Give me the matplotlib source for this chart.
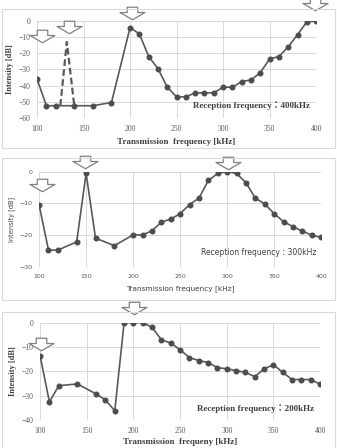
import matplotlib
matplotlib.use('Agg')
import matplotlib.pyplot as plt
from matplotlib.path import Path
from matplotlib.patches import Rectangle

# --- data ---
freq_400 = [100, 110, 120, 140, 160, 180, 200, 210, 220, 230, 240, 250, 260, 270, 280,
            290, 300, 310, 320, 330, 340, 350, 360, 370, 380, 390, 400]
db_400 = [-36, -52.5, -52.5, -52.5, -52.5, -50.5, -4, -8, -22, -29.5, -41, -47, -47, -44.5, -44.5,
          -44.5, -41, -41, -37.5, -36.5, -32, -23.5, -22, -16, -8.5, -0.5, 0]
dash_freq_400 = [125, 132, 140]
dash_db_400 = [-52.5, -13, -52.5]
arrows_400 = [(105, -9.5), (134, -3.5), (202, 4.7), (399, 10.5)]

freq_300 = [100, 110, 120, 140, 150, 160, 180, 200, 210, 220, 230, 240, 250, 260, 270, 280,
            290, 300, 310, 320, 330, 340, 350, 360, 370, 380, 390, 400]
db_300 = [-10.5, -24.8, -24.8, -22.2, -0.5, -21, -23.4, -20, -20, -18.7, -16, -15, -13.3, -10.4, -8.4, -2.8,
          -0.6, 0, -0.6, -3.5, -8.4, -10.2, -13.3, -15.8, -17.4, -18.8, -20.1, -20.8]
arrows_300 = [(103.5, -4.2), (149, 2.9), (301, 2.7)]

freq_200 = [100, 110, 120, 140, 160, 170, 180, 190, 200, 210, 220, 230, 240, 250, 260, 270, 280,
            290, 300, 310, 320, 330, 340, 350, 360, 370, 380, 390, 400]
db_200 = [-13.7, -32.6, -25.9, -25.2, -29.3, -31.8, -36.2, 0, 0, 0, -2, -7.1, -8.4, -11.2, -14.4, -15.6, -16.4,
          -18.5, -19, -19.7, -20.5, -22.2, -19, -17.3, -20.5, -23.4, -23.4, -23.4, -25.3]
arrows_200 = [(101, -8.8), (200.5, 6)]

# block arrow marker pointing down
ARROW = Path([(-0.42, 0.5), (0.42, 0.5), (0.42, 0.08), (1, 0.08), (0, -0.5), (-1, 0.08),
              (-0.42, 0.08), (-0.42, 0.5)],
             [Path.MOVETO] + [Path.LINETO] * 6 + [Path.CLOSEPOLY])

GRAY = '#595959'


def pannello(fig, rect, x, y, ylim, yticks, frecuenza, arrows, serif, xlabel, text_pos, frame,
             tickpad, labelpad):
    fig.patches.append(Rectangle((frame[0], frame[1]), frame[2], frame[3], transform=fig.transFigure,
                                 fill=False, edgecolor='#d9d9d9', linewidth=0.8))
    ax = fig.add_axes(rect)
    if serif:
        family, weight = 'Liberation Serif', 'bold'
        tick_fs, lab_fs, txt_fs = 5.5, 6.5, 6.5
    else:
        family, weight = 'DejaVu Sans', 'normal'
        tick_fs, lab_fs, txt_fs = 4.5, 5.3, 5.5

    ax.plot(x, y, color=GRAY, linewidth=1.2, marker='o', markersize=3.3,
            markerfacecolor='#4d4d4d', markeredgecolor='#4d4d4d', zorder=3)
    for ax_x, ax_y in arrows:
        ax.plot([ax_x], [ax_y], marker=ARROW, markersize=18, markerfacecolor='white',
                markeredgecolor='#808080', markeredgewidth=0.9, clip_on=False, zorder=5, linestyle='none')

    ax.set_xlim(100, 400)
    ax.set_ylim(*ylim)
    ax.set_xticks(range(100, 401, 50))
    ax.set_yticks(yticks)
    ax.grid(True, color='#d9d9d9', linewidth=0.7)
    ax.set_axisbelow(True)
    for s in ax.spines.values():
        s.set_visible(False)
    ax.tick_params(length=0, labelsize=tick_fs, labelcolor='#595959', pad=tickpad)
    for lab in ax.get_xticklabels() + ax.get_yticklabels():
        lab.set_family(family)

    ax.set_xlabel(xlabel, fontsize=lab_fs, family=family, weight=weight, color='#404040', labelpad=labelpad)
    ax.set_ylabel('Intensity [dB]', fontsize=lab_fs - 0.5, family=family, weight=weight, color='#404040', labelpad=3)
    ax.text(text_pos[0], text_pos[1], 'Reception frequency：' + frecuenza, ha='right', va='center',
            fontsize=txt_fs, family=[family, 'Noto Sans CJK JP'], weight=weight, color='#404040')
    return ax


fig = plt.figure(figsize=(3.37, 4.48), dpi=100)
fig.patch.set_facecolor('white')

ax1 = pannello(fig, [0.110, 0.737, 0.828, 0.216], freq_400, db_400, (-60, 0), range(-60, 1, 10),
               '400kHz', arrows_400, True, 'Transmission  frequency [kHz]', (393, -52.5),
               (0.006, 0.670, 0.988, 0.310), 5, 4)
ax1.plot(dash_freq_400, dash_db_400, color=GRAY, linewidth=1.6, linestyle=(0, (3, 1.5)), zorder=2)

pannello(fig, [0.116, 0.405, 0.837, 0.212], freq_300, db_300, (-30, 0), [-30, -20, -10, 0],
         '300kHz', arrows_300, False, 'Transmission frequency [kHz]', (395, -25.6),
         (0.006, 0.330, 0.988, 0.317), 5, 5)

pannello(fig, [0.119, 0.0625, 0.831, 0.2175], freq_200, db_200, (-40, 0), range(-40, 1, 10),
         '200kHz', arrows_200, True, 'Transmission  frequeny [kHz]', (393, -35.3),
         (0.006, -0.01, 0.988, 0.314), 5, 2)

fig.savefig('out.png', dpi=100)
